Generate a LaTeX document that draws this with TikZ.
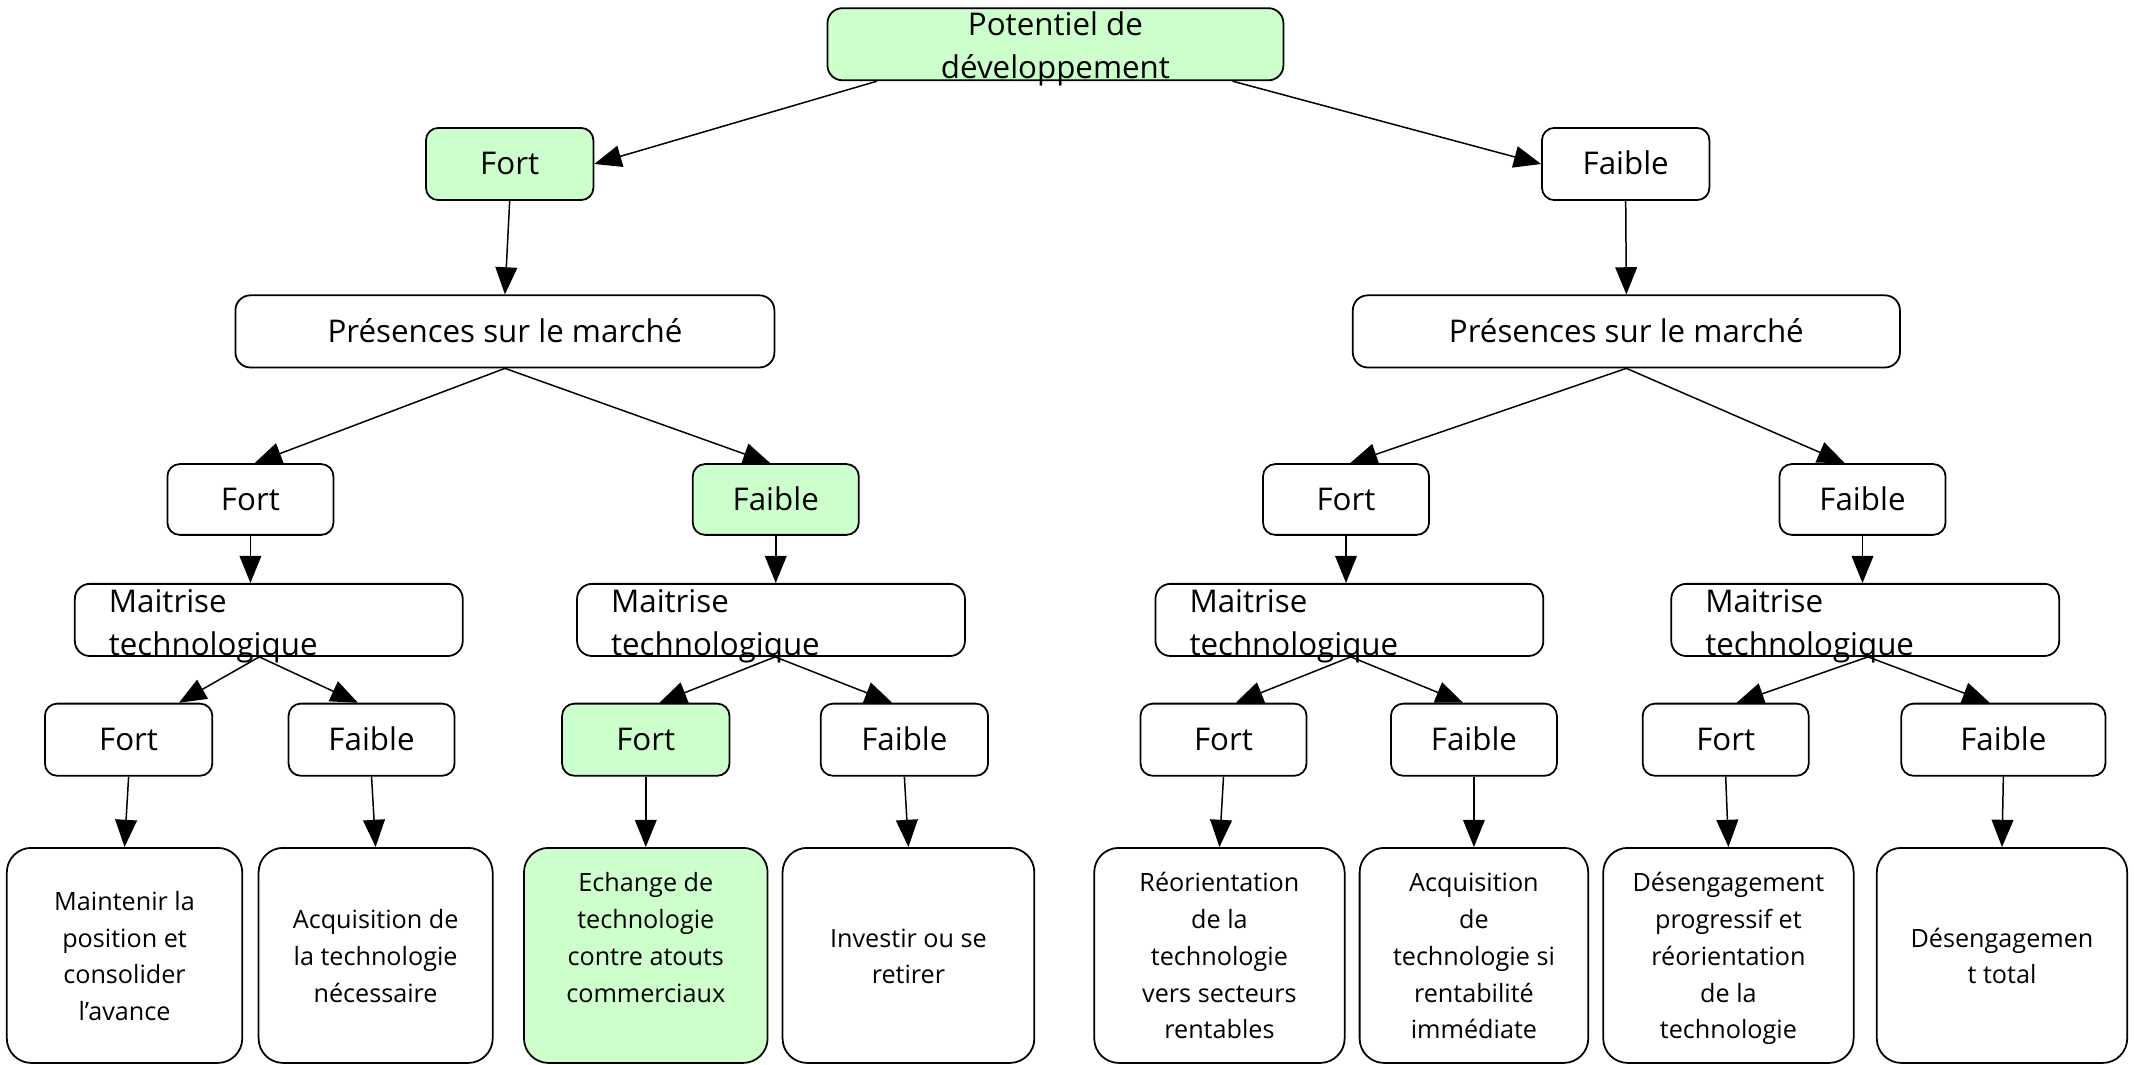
\documentclass[tikz,border=0pt]{standalone}
\usepackage{fontspec}
\setmainfont{Open Sans}
\usetikzlibrary{arrows.meta}
\definecolor{lgreen}{HTML}{CCFFCC}
\newcommand\mctext[2]{\raisebox{#1}[\height][\depth]{\begin{tabular}{@{}c@{}}#2\end{tabular}}}
\newcommand\mttext[2]{\raisebox{#1}[0pt][0pt]{\begin{tabular}[t]{@{}c@{}}#2\end{tabular}}}
\newcommand\mltext[2]{\makebox[235pt][l]{\raisebox{#1}[0pt][0pt]{\begin{tabular}[t]{@{}l@{}}#2\end{tabular}}}}
\begin{document}
\begin{tikzpicture}[x=1pt,y=-1pt,
  box/.style={draw,line width=1.3pt,rounded corners=9pt,inner sep=0pt,
    font=\fontsize{23}{32}\selectfont},
  sbox/.style={box,minimum width=123pt,minimum height=53pt},
  wbox/.style={box,rounded corners=11pt,minimum height=53pt},
  mbox/.style={box,rounded corners=11pt,minimum width=285pt,minimum height=53pt},
  rbox/.style={box,rounded corners=18pt,minimum height=158pt,font=\fontsize{18.5}{27}\selectfont},
  green/.style={fill=lgreen},
  arr/.style={-{Triangle[length=20pt,width=16pt]},line width=1.1pt}
]
\useasboundingbox (0,0) rectangle (1568,782);

% level 0
\node[wbox,green,minimum width=335pt] (p) at (775.5,32.5) {\mttext{6.6pt}{Potentiel de\\développement}};
% level 1
\node[sbox,green] (f1) at (374.5,120.5) {\mctext{-1.5pt}{Fort}};
\node[sbox] (g1) at (1194.5,120.5) {\mctext{-1.5pt}{Faible}};
% level 2
\node[wbox,minimum width=396pt] (pl) at (371,243.5) {\mctext{-1.5pt}{Présences sur le marché}};
\node[wbox,minimum width=402pt] (pr) at (1195,243.5) {\mctext{-1.5pt}{Présences sur le marché}};
% level 3
\node[sbox,minimum width=122pt,minimum height=52pt] (a) at (184,367) {\mctext{-1.5pt}{Fort}};
\node[sbox,green,minimum width=122pt,minimum height=52pt] (b) at (570,367) {\mctext{-1.5pt}{Faible}};
\node[sbox,minimum width=122pt,minimum height=52pt] (c) at (989,367) {\mctext{-1.5pt}{Fort}};
\node[sbox,minimum width=122pt,minimum height=52pt] (d) at (1368.5,367) {\mctext{-1.5pt}{Faible}};
% level 4
\node[mbox] (m1) at (197.5,455.5) {\mltext{5.6pt}{Maitrise\\technologique}};
\node[mbox] (m2) at (566.5,455.5) {\mltext{5.6pt}{Maitrise\\technologique}};
\node[mbox] (m3) at (991.5,455.5) {\mltext{5.6pt}{Maitrise\\technologique}};
\node[mbox] (m4) at (1370.5,455.5) {\mltext{5.6pt}{Maitrise\\technologique}};
% level 5
\node[sbox] (e1) at (94.5,543.5) {\mctext{-1.5pt}{Fort}};
\node[sbox,minimum width=122pt] (e2) at (273,543.5) {\mctext{-1.5pt}{Faible}};
\node[sbox,green] (e3) at (474.5,543.5) {\mctext{-1.5pt}{Fort}};
\node[sbox] (e4) at (664.5,543.5) {\mctext{-1.5pt}{Faible}};
\node[sbox,minimum width=122pt] (e5) at (899,543.5) {\mctext{-1.5pt}{Fort}};
\node[sbox,minimum width=122pt] (e6) at (1083,543.5) {\mctext{-1.5pt}{Faible}};
\node[sbox,minimum width=122pt] (e7) at (1268,543.5) {\mctext{-1.5pt}{Fort}};
\node[sbox,minimum width=150pt] (e8) at (1472,543.5) {\mctext{-1.5pt}{Faible}};
% level 6
\node[rbox,minimum width=173pt] (r1) at (91.5,702) {\mctext{-2pt}{Maintenir la\\position et\\consolider\\l’avance}};
\node[rbox,minimum width=172pt] (r2) at (276,702) {\mctext{-2pt}{Acquisition de\\la technologie\\nécessaire}};
\node[rbox,green,minimum width=179pt] (r3) at (474.5,702) {\mctext{11.5pt}{Echange de\\technologie\\contre atouts\\commerciaux}};
\node[rbox,minimum width=185pt] (r4) at (667.5,702) {\mctext{-2pt}{Investir ou se\\retirer}};
\node[rbox,minimum width=184pt] (r5) at (896,702) {\mctext{-2pt}{Réorientation\\de la\\technologie\\vers secteurs\\rentables}};
\node[rbox,minimum width=168pt] (r6) at (1083,702) {\mctext{-2pt}{Acquisition\\de\\technologie si\\rentabilité\\immédiate}};
\node[rbox,minimum width=184pt] (r7) at (1270,702) {\mctext{-2pt}{Désengagement\\progressif et\\réorientation\\de la\\technologie}};
\node[rbox,minimum width=184pt] (r8) at (1471,702) {\mctext{-2pt}{Désengagemen\\t total}};

% connectors
\draw[arr] ([xshift=37pt]p.south west) -- (f1.east);
\draw[arr] ([xshift=-38pt]p.south east) -- (g1.west);
\draw[arr] (f1.south) -- (pl.north);
\draw[arr] (g1.south) -- (pr.north);
\draw[arr] (pl.south) -- ([xshift=3pt]a.north);
\draw[arr] (pl.south) -- ([xshift=-4pt]b.north);
\draw[arr] (pr.south) -- ([xshift=3pt]c.north);
\draw[arr] (pr.south) -- ([xshift=-13pt]d.north);
\draw[arr] (a.south) -- (a.south |- m1.north);
\draw[arr] (b.south) -- (b.south |- m2.north);
\draw[arr] (c.south) -- (c.south |- m3.north);
\draw[arr] (d.south) -- (d.south |- m4.north);
\draw[arr] ([xshift=-7pt]m1.south) -- ([xshift=37pt]e1.north);
\draw[arr] ([xshift=-7pt]m1.south) -- ([xshift=-10pt]e2.north);
\draw[arr] ([xshift=3pt]m2.south) -- ([xshift=10pt]e3.north);
\draw[arr] ([xshift=3pt]m2.south) -- ([xshift=-9pt]e4.north);
\draw[arr] ([xshift=1pt]m3.south) -- ([xshift=9pt]e5.north);
\draw[arr] ([xshift=1pt]m3.south) -- ([xshift=-8pt]e6.north);
\draw[arr] ([xshift=2pt]m4.south) -- ([xshift=8pt]e7.north);
\draw[arr] ([xshift=2pt]m4.south) -- ([xshift=-10pt]e8.north);
\draw[arr] (e1.south) -- (r1.north);
\draw[arr] (e2.south) -- (r2.north);
\draw[arr] (e3.south) -- (r3.north);
\draw[arr] (e4.south) -- (r4.north);
\draw[arr] (e5.south) -- (r5.north);
\draw[arr] (e6.south) -- (r6.north);
\draw[arr] (e7.south) -- (r7.north);
\draw[arr] (e8.south) -- (r8.north);
\end{tikzpicture}
\end{document}
